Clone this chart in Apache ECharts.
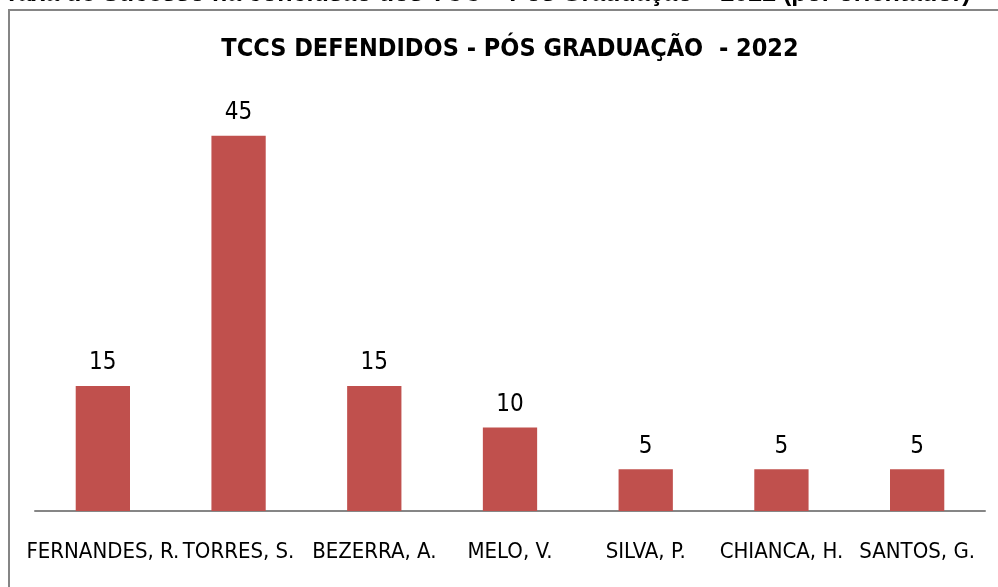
<!DOCTYPE html>
<html>
<head>
<meta charset="utf-8">
<script src="https://cdn.jsdelivr.net/npm/echarts@6/dist/echarts.min.js"></script>
<style>
  html, body { margin: 0; padding: 0; background: #fff; }
  #chart { width: 998px; height: 587px; }
</style>
</head>
<body>
<div id="chart"></div>
<script>
// dados do gráfico
const orientadores = ['FERNANDES, R.', 'TORRES, S.', 'BEZERRA, A.', 'MELO, V.', 'SILVA, P.', 'CHIANCA, H.', 'SANTOS, G.'];
const tccsDefendidos = [15, 45, 15, 10, 5, 5, 5];
const tituloGrafico = 'TCCS DEFENDIDOS - PÓS GRADUAÇÃO  - 2022';
const tituloPagina = 'Taxa de Sucesso na conclusão dos TCC – Pós Graduação – 2022 (por orientador)';

const fonteNarrow = '"Liberation Sans Narrow", "Arial Narrow", "DejaVu Sans Condensed", sans-serif';

const chart = echarts.init(document.getElementById('chart'));
const option = {
    backgroundColor: '#fff',
    animation: false,
    graphic: [
        {
            type: 'rect',
            shape: { x: 9, y: 10, width: 1000, height: 600 },
            style: { fill: 'none', stroke: '#858585', lineWidth: 2 },
            silent: true
        },
        {
            // texto da página cortado no topo
            type: 'text',
            x: 4,
            y: 7,
            style: {
                text: tituloPagina,
                fontFamily: 'Liberation Sans, Arial, sans-serif',
                fontWeight: 'bold',
                fontSize: 25,
                fill: '#000',
                verticalAlign: 'bottom'
            },
            silent: true
        },
        {
            type: 'text',
            x: 510,
            y: 37,
            style: {
                text: tituloGrafico,
                fontFamily: fonteNarrow,
                fontWeight: 'bold',
                fontSize: 25,
                fill: '#000',
                align: 'center',
                verticalAlign: 'top'
            },
            silent: true
        }
    ],
    grid: { left: 35, right: 13, top: 94, bottom: 76 },
    xAxis: {
        type: 'category',
        data: orientadores,
        axisLine: { lineStyle: { color: '#868686', width: 2 } },
        axisTick: { show: false },
        axisLabel: {
            interval: 0,
            margin: 30,
            fontFamily: fonteNarrow,
            fontSize: 22,
            color: '#000'
        }
    },
    yAxis: {
        type: 'value',
        min: 0,
        max: 50,
        show: false,
        splitLine: { show: false }
    },
    series: [{
        type: 'bar',
        data: tccsDefendidos,
        barWidth: '40%',
        itemStyle: { color: '#C0504D' },
        label: {
            show: true,
            position: 'top',
            distance: 11,
            fontFamily: fonteNarrow,
            fontSize: 24,
            color: '#000'
        }
    }]
};
chart.setOption(option);
window.addEventListener('resize', () => chart.resize());
</script>
</body>
</html>
